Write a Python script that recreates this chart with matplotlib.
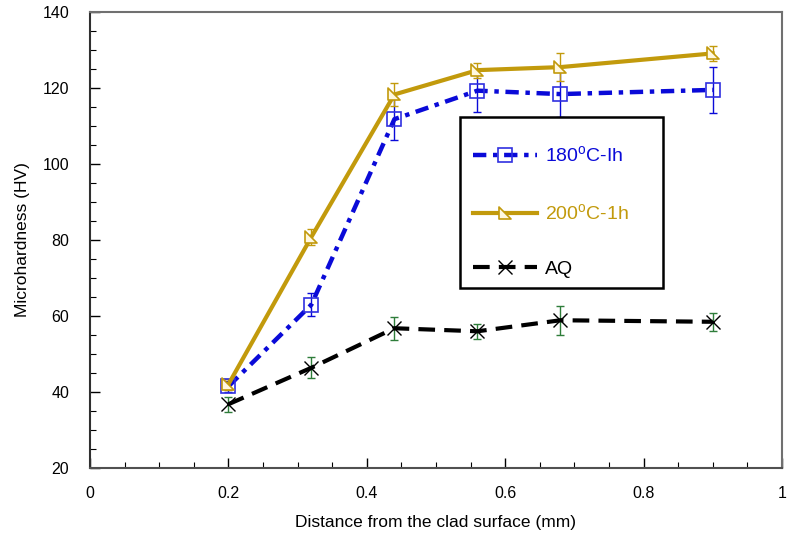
import matplotlib
matplotlib.use("Agg")
import matplotlib.pyplot as plt
from matplotlib.ticker import MultipleLocator
from matplotlib.path import Path
from matplotlib.patches import Rectangle

plt.rcParams['font.family'] = ['Liberation Sans', 'DejaVu Sans']

distance = [0.2, 0.32, 0.44, 0.56, 0.68, 0.9]
hv_180 = [41.5, 63.0, 111.8, 119.3, 118.4, 119.5]
err_180 = [1.5, 3.0, 5.5, 5.5, 6.0, 6.0]
hv_200 = [42.0, 80.8, 118.3, 124.7, 125.5, 129.1]
err_200 = [1.5, 2.0, 3.0, 2.0, 3.7, 2.0]
hv_aq = [36.8, 46.4, 56.8, 56.0, 58.9, 58.5]
err_aq = [2.0, 2.8, 3.0, 2.0, 3.8, 2.3]

labels = ['180$^{\\mathregular{o}}$C-Ih', '200$^{\\mathregular{o}}$C-1h', 'AQ']

blue = '#0A0AD8'
gold = '#C29A0C'
green = '#2E7D3A'

tri = Path([(-0.5, 0.5), (-0.5, -0.5), (0.5, -0.5), (-0.5, 0.5)],
           [Path.MOVETO, Path.LINETO, Path.LINETO, Path.CLOSEPOLY])

fig = plt.figure(figsize=(7.89, 5.35), dpi=100)
ax = fig.add_axes([0.114, 0.125, 0.877, 0.8526])

# error bars
ax.errorbar(distance, hv_180, yerr=err_180, fmt='none', ecolor=blue, elinewidth=1, capsize=3, capthick=1, zorder=2)
ax.errorbar(distance, hv_200, yerr=err_200, fmt='none', ecolor=gold, elinewidth=1, capsize=3, capthick=1, zorder=2)
ax.errorbar(distance, hv_aq, yerr=err_aq, fmt='none', ecolor=green, elinewidth=1, capsize=3, capthick=1, zorder=2)

l1, = ax.plot(distance, hv_180, color=blue, lw=3.2, linestyle=(0, (3, 1.5, 1, 1.5)),
              marker='s', markersize=10, markerfacecolor='none', markeredgecolor='#3030E0',
              markeredgewidth=1.2, zorder=3, label=labels[0])
l2, = ax.plot(distance, hv_200, color=gold, lw=3.0, linestyle='-',
              marker=tri, markersize=8, markerfacecolor='#FFF8E0', markeredgecolor=gold,
              markeredgewidth=1.2, zorder=4, label=labels[1])
l3, = ax.plot(distance, hv_aq, color='black', lw=3.0, linestyle=(0, (4, 2.2)),
              marker='x', markersize=10, markeredgecolor='black', markeredgewidth=1.0,
              zorder=3, label=labels[2])

ax.set_xlim(0, 1)
ax.set_ylim(20, 140)
ax.xaxis.set_major_locator(MultipleLocator(0.2))
ax.xaxis.set_minor_locator(MultipleLocator(0.05))
ax.yaxis.set_major_locator(MultipleLocator(20))
ax.yaxis.set_minor_locator(MultipleLocator(5))
ax.set_xticks([0, 0.2, 0.4, 0.6, 0.8, 1.0])
ax.set_xticklabels(['0', '0.2', '0.4', '0.6', '0.8', '1'])

ax.tick_params(which='both', direction='in', top=False, right=False, labelsize=11.5, colors='black')
ax.tick_params(which='major', length=7, width=1)
ax.tick_params(which='minor', length=4, width=0.8)
ax.tick_params(axis='x', pad=13)
ax.tick_params(axis='y', pad=15)
for s in ax.spines.values():
    s.set_color('#707070')
    s.set_linewidth(1.5)
ax.spines['left'].set_color('#303030')
ax.spines['bottom'].set_color('#505050')

ax.set_xlabel('Distance from the clad surface (mm)', fontsize=12.5, labelpad=10)
ax.set_ylabel('Microhardness (HV)', fontsize=12.5, labelpad=9)

# legend frame drawn separately
ax.add_patch(Rectangle((0.535, 0.395), 0.293, 0.375, transform=ax.transAxes,
                       facecolor='white', edgecolor='black', linewidth=1.8, zorder=5))

leg = ax.legend(handles=[l1, l2, l3], loc='upper left', bbox_to_anchor=(0.553, 0.708),
                fontsize=14, frameon=False,
                handlelength=3.3, labelspacing=1.9, borderpad=0, handletextpad=0.4,
                borderaxespad=0)
leg.set_zorder(6)
for t, c in zip(leg.get_texts(), [blue, gold, 'black']):
    t.set_color(c)

fig.savefig('out.png', dpi=100)
